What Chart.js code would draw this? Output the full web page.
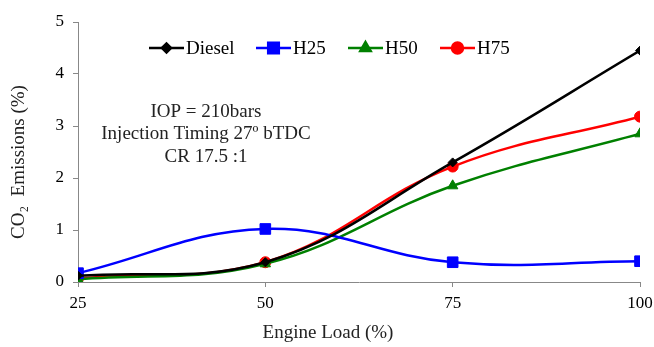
<!DOCTYPE html>
<html>
<head>
<meta charset="utf-8">
<script src="https://cdn.jsdelivr.net/npm/chart.js@4/dist/chart.umd.min.js"></script>
<style>
  html, body { margin: 0; padding: 0; background: #fff; }
  #wrap { width: 654px; height: 347px; }
</style>
</head>
<body>
<div id="wrap"><canvas id="co2Chart" width="654" height="347"></canvas></div>
<script>
// engine load (%) and CO2 emissions (%)
var loads = [25, 50, 75, 100];
var diesel = [0.12, 0.38, 2.3, 4.45];
var h25 = [0.17, 1.02, 0.38, 0.4];
var h50 = [0.05, 0.35, 1.85, 2.85];
var h75 = [0.07, 0.38, 2.22, 3.18];
var noteLines = ['IOP = 210bars', 'Injection Timing 27\u00ba bTDC', 'CR 17.5 :1'];
var xTitle = 'Engine Load (%)';
var yTitle = 'CO\u2082  Emissions (%)';

var serif = '"Liberation Serif", "Times New Roman", serif';

function pts(vals) {
    return loads.map(function (x, i) { return { x: x, y: vals[i] }; });
}

function series(label, vals, color, shape, r) {
    return {
        label: label,
        data: pts(vals),
        borderColor: color,
        backgroundColor: color,
        borderWidth: 2.5,
        pointStyle: shape,
        pointRadius: r,
        pointBorderWidth: 1,
        tension: 0.4,
        fill: false
    };
}

// legend inside the plot, the test conditions note and the axis titles
var extras = {
    id: 'extras',
    afterDraw: function (chart) {
        var ctx = chart.ctx;
        var xs = [149, 256, 348, 440];
        ctx.save();
        ctx.font = '19px ' + serif;
        ctx.textBaseline = 'middle';
        chart.data.datasets.forEach(function (ds, i) {
            var x = xs[i], y = 48;
            ctx.strokeStyle = ds.borderColor;
            ctx.lineWidth = 2.5;
            ctx.beginPath();
            ctx.moveTo(x, y);
            ctx.lineTo(x + 35, y);
            ctx.stroke();
            Chart.helpers.drawPoint(ctx, {
                pointStyle: ds.pointStyle, radius: ds.pointRadius, borderWidth: 1
            }, x + 17.5, y);
            ctx.fillStyle = ds.borderColor;
            ctx.fill();
            ctx.fillStyle = '#000';
            ctx.textAlign = 'left';
            ctx.fillText(ds.label, x + 37, y + 1);
        });
        ctx.textAlign = 'center';
        ctx.fillStyle = '#222';
        noteLines.forEach(function (t, i) {
            ctx.fillText(t, 206, 112 + i * 22.5);
        });
        ctx.fillText(xTitle, 328, 333);
        ctx.translate(19, 162);
        ctx.rotate(-Math.PI / 2);
        ctx.fillText(yTitle, 0, 0);
        ctx.restore();
    }
};

new Chart(document.getElementById('co2Chart'), {
    type: 'line',
    data: {
        datasets: [
            series('Diesel', diesel, '#000000', 'rectRot', 4.5),
            series('H25', h25, '#0000ff', 'rect', 7.5),
            series('H50', h50, '#008000', 'triangle', 6),
            series('H75', h75, '#ff0000', 'circle', 5.5)
        ]
    },
    options: {
        responsive: false,
        animation: false,
        layout: { padding: { top: 22, right: 4, left: 0, bottom: 0 } },
        plugins: {
            legend: { display: false },
            tooltip: { enabled: false }
        },
        scales: {
            x: {
                type: 'linear',
                min: 25,
                max: 100,
                afterFit: function (s) { s.height = 65; s.paddingRight = 14; },
                ticks: { stepSize: 25, color: '#000', font: { family: serif, size: 17 }, padding: 6 },
                grid: { display: true, drawOnChartArea: false, drawTicks: true, tickLength: 5, color: '#888' },
                border: { color: '#888', width: 1 }
            },
            y: {
                min: 0,
                max: 5,
                afterFit: function (s) { s.width = 78; },
                ticks: { stepSize: 1, color: '#000', font: { family: serif, size: 17 }, padding: 9 },
                grid: { display: true, drawOnChartArea: false, drawTicks: true, tickLength: 5, color: '#888' },
                border: { color: '#888', width: 1 }
            }
        }
    },
    plugins: [extras]
});
</script>
</body>
</html>
